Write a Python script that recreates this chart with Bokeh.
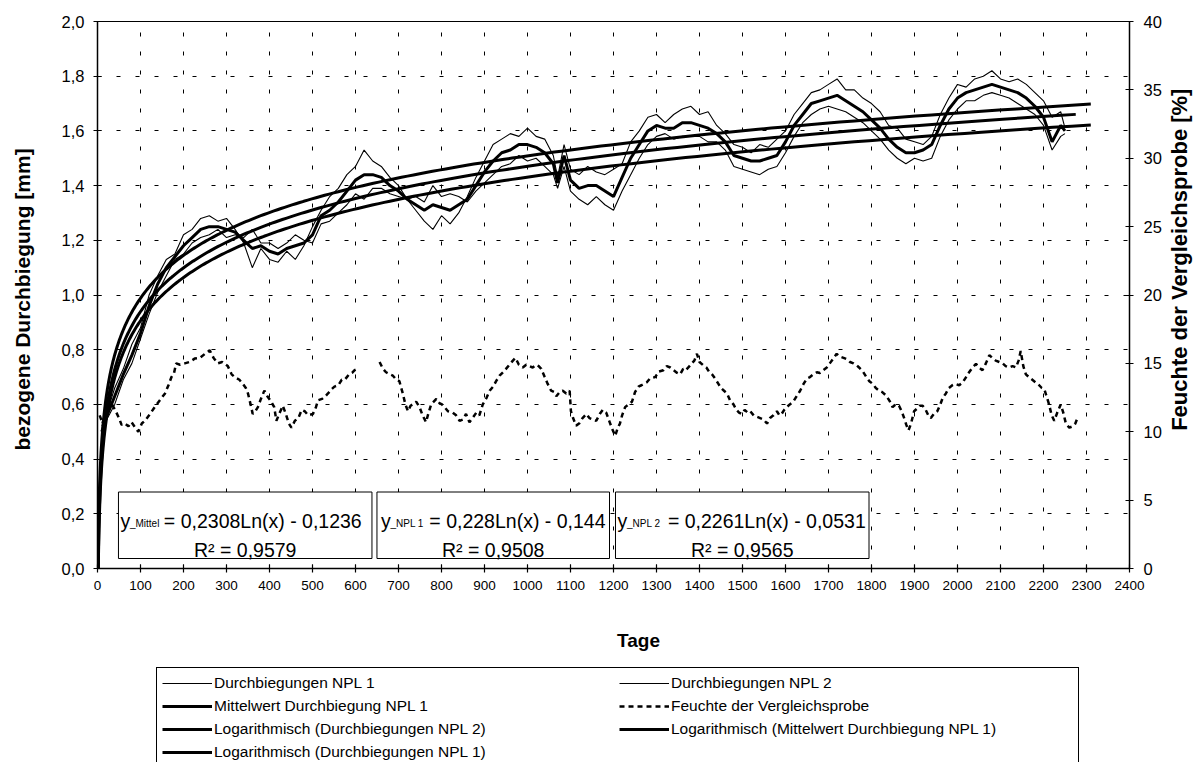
import math
import numpy as np
from bokeh.plotting import figure
from bokeh.layouts import column, row
from bokeh.models import (Range1d, LinearAxis, FixedTicker, CustomJSTickFormatter,
                          Legend, LegendItem, BoxAnnotation, Label)
from bokeh.embed import file_html
from bokeh.resources import INLINE

FONT = "Liberation Sans"
NAN = float("nan")

# ---------------- data ----------------
days = [10, 20, 40, 60, 80, 100, 120, 140, 160, 180,
        200, 220, 240, 260, 280, 300, 320, 340, 360, 380,
        400, 420, 440, 460, 480, 500, 520, 540, 560, 580,
        600, 620, 640, 660, 680, 700, 720, 740, 760, 780,
        800, 820, 840, 860, 880, 900, 920, 940, 960, 980,
        1000, 1020, 1040, 1060, 1070, 1085, 1100, 1120, 1140, 1160,
        1180, 1200, 1220, 1240, 1260, 1280, 1300, 1320, 1340, 1360,
        1380, 1400, 1420, 1440, 1460, 1480, 1500, 1520, 1540, 1560,
        1580, 1600, 1620, 1640, 1660, 1680, 1700, 1720, 1740, 1760,
        1780, 1800, 1820, 1840, 1860, 1880, 1900, 1920, 1940, 1960,
        1980, 2000, 2020, 2040, 2060, 2080, 2100, 2120, 2140, 2160,
        2180, 2200, 2220, 2240, 2250]

mittel = [0.50, 0.55, 0.63, 0.71, 0.78, 0.86, 0.96, 1.04, 1.10, 1.14,
          1.18, 1.21, 1.24, 1.25, 1.25, 1.24, 1.23, 1.20, 1.17, 1.18,
          1.16, 1.15, 1.17, 1.18, 1.19, 1.22, 1.29, 1.31, 1.34, 1.38,
          1.42, 1.44, 1.44, 1.43, 1.40, 1.38, 1.35, 1.33, 1.31, 1.33,
          1.32, 1.31, 1.33, 1.35, 1.40, 1.45, 1.49, 1.52, 1.53, 1.55,
          1.55, 1.54, 1.52, 1.48, 1.41, 1.51, 1.42, 1.39, 1.40, 1.40,
          1.38, 1.36, 1.43, 1.50, 1.55, 1.60, 1.62, 1.61, 1.61, 1.63,
          1.63, 1.62, 1.61, 1.59, 1.56, 1.51, 1.50, 1.49, 1.49, 1.50,
          1.51, 1.56, 1.62, 1.66, 1.70, 1.71, 1.72, 1.73, 1.71, 1.69,
          1.67, 1.64, 1.61, 1.57, 1.54, 1.52, 1.52, 1.53, 1.55, 1.62,
          1.68, 1.72, 1.74, 1.75, 1.76, 1.77, 1.76, 1.75, 1.74, 1.72,
          1.69, 1.65, 1.56, 1.62, 1.60]

npl2 = [0.52, 0.56, 0.66, 0.73, 0.82, 0.88, 1.00, 1.07, 1.13, 1.15,
        1.22, 1.24, 1.28, 1.29, 1.27, 1.28, 1.24, 1.19, 1.10, 1.17,
        1.13, 1.12, 1.16, 1.13, 1.18, 1.25, 1.31, 1.36, 1.39, 1.44,
        1.47, 1.53, 1.49, 1.47, 1.43, 1.40, 1.35, 1.31, 1.27, 1.24,
        1.29, 1.26, 1.30, 1.36, 1.43, 1.49, 1.55, 1.57, 1.59, 1.58,
        1.61, 1.58, 1.57, 1.51, 1.43, 1.55, 1.46, 1.44, 1.47, 1.45,
        1.44, 1.46, 1.48, 1.56, 1.60, 1.65, 1.66, 1.63, 1.66, 1.68,
        1.69, 1.66, 1.67, 1.62, 1.59, 1.55, 1.54, 1.52, 1.55, 1.54,
        1.57, 1.60, 1.66, 1.70, 1.74, 1.75, 1.77, 1.79, 1.75, 1.75,
        1.72, 1.70, 1.67, 1.62, 1.61, 1.57, 1.56, 1.55, 1.58, 1.66,
        1.72, 1.77, 1.76, 1.79, 1.80, 1.82, 1.79, 1.78, 1.79, 1.77,
        1.74, 1.71, 1.65, 1.67, 1.61]

npl1 = [0.48, 0.54, 0.60, 0.69, 0.75, 0.84, 0.93, 1.01, 1.07, 1.13,
        1.15, 1.19, 1.21, 1.22, 1.24, 1.21, 1.22, 1.21, 1.24, 1.19,
        1.19, 1.17, 1.19, 1.22, 1.20, 1.19, 1.26, 1.27, 1.30, 1.33,
        1.37, 1.35, 1.39, 1.39, 1.37, 1.36, 1.35, 1.36, 1.34, 1.40,
        1.36, 1.37, 1.36, 1.34, 1.38, 1.41, 1.44, 1.47, 1.48, 1.51,
        1.49, 1.50, 1.47, 1.44, 1.39, 1.47, 1.38, 1.35, 1.33, 1.36,
        1.33, 1.31, 1.38, 1.44, 1.50, 1.55, 1.58, 1.59, 1.57, 1.58,
        1.58, 1.58, 1.56, 1.56, 1.53, 1.47, 1.46, 1.45, 1.44, 1.46,
        1.47, 1.52, 1.58, 1.63, 1.66, 1.68, 1.69, 1.68, 1.67, 1.65,
        1.63, 1.60, 1.57, 1.53, 1.50, 1.48, 1.50, 1.49, 1.50, 1.58,
        1.64, 1.68, 1.71, 1.71, 1.73, 1.74, 1.73, 1.72, 1.70, 1.68,
        1.66, 1.62, 1.53, 1.58, 1.59]

hum_days = [5, 12, 20, 30, 41, 50, 56, 64, 72, 79, 88, 95, 103, 110, 120, 133, 145, 157, 165, 172,
            178, 183, 192, 203, 214, 226, 238, 250, 261, 270, 280, 290, 303, 312, 319, 330, 338, 345, 350, 356,
            361, 367, 373, 380, 388, 395, 404, 411, 416, 424, 431, 438, 445, 451, 459, 467, 475, 482, 490, 501,
            508, 513, 522, 530, 536, 544, 551, 560, 568, 575, 585, 592, 598, 605, 630,
            656, 664, 671, 680, 687, 695, 702, 710, 716, 722, 728, 733, 741, 749, 756, 764, 770, 776, 782, 788,
            795, 801, 807, 815, 826, 834, 842, 850, 857, 865, 872, 881, 888, 896, 905, 912, 920, 927, 935, 943,
            950, 958, 966, 972, 980, 989, 997, 1004, 1012, 1020, 1026, 1032, 1040, 1047, 1055, 1062, 1067, 1075, 1082, 1090,
            1098, 1101, 1106, 1113, 1120, 1128, 1137, 1144, 1152, 1160, 1168, 1175, 1183, 1190, 1197, 1204, 1210, 1215, 1220, 1227,
            1235, 1243, 1250, 1258, 1265, 1277, 1285, 1297, 1305, 1316, 1324, 1332, 1340, 1348, 1355, 1362, 1368, 1374, 1382, 1388,
            1394, 1400, 1409, 1416, 1422, 1429, 1436, 1444, 1450, 1457, 1464, 1471, 1479, 1486, 1492, 1498, 1505, 1512, 1518, 1526,
            1533, 1541, 1549, 1557, 1564, 1572, 1580, 1586, 1591, 1597, 1603, 1610, 1618, 1626, 1634, 1642, 1650, 1657, 1665, 1673,
            1680, 1688, 1696, 1703, 1710, 1719, 1726, 1735, 1743, 1750, 1758, 1766, 1771, 1780, 1788, 1795, 1803, 1810, 1818, 1825,
            1832, 1837, 1843, 1849, 1856, 1864, 1870, 1876, 1881, 1886, 1892, 1899, 1906, 1912, 1919, 1926, 1932, 1938, 1945, 1953,
            1960, 1966, 1973, 1980, 1988, 1995, 2004, 2012, 2020, 2027, 2035, 2043, 2050, 2058, 2066, 2074, 2081, 2089, 2097, 2105,
            2112, 2120, 2128, 2136, 2142, 2147, 2153, 2159, 2166, 2174, 2182, 2190, 2196, 2202, 2208, 2213, 2219, 2225, 2232, 2240,
            2246, 2252, 2260, 2268, 2274, 2279]

hum_vals = [11.2, 10.6, 11.8, 12.2, 11.6, 11.0, 10.5, 10.6, 10.4, 10.7, 10.3, 10.0, 10.6, 10.8, 11.2, 11.8, 12.3, 12.8, 13.4, 14.0,
            14.3, 15.0, 14.9, 15.0, 15.1, 15.35, 15.4, 15.7, 15.95, 15.4, 15.0, 15.1, 14.8, 14.2, 14.0, 13.8, 13.5, 13.2, 12.8, 12.0,
            11.3, 11.5, 11.8, 12.4, 13.0, 12.6, 12.2, 11.8, 10.8, 11.4, 11.9, 11.3, 10.6, 10.3, 10.8, 11.0, 11.6, 11.5, 11.2, 11.3,
            11.8, 12.3, 12.4, 12.6, 12.8, 13.1, 13.3, 13.4, 13.8, 13.8, 14.2, 14.3, 14.5, 14.6, NAN,
            15.1, 14.6, 14.35, 14.2, 14.1, 13.8, 13.7, 12.8, 12.0, 11.5, 11.9, 12.0, 12.2, 11.8, 11.2, 10.7, 11.4, 12.0, 12.2, 12.4,
            12.1, 12.0, 11.8, 11.5, 11.4, 11.2, 10.8, 10.9, 11.3, 10.7, 11.0, 11.4, 11.2, 12.0, 12.5, 13.0, 13.3, 13.7, 14.1, 14.35,
            14.6, 14.9, 15.2, 15.4, 14.9, 14.7, 14.9, 14.8, 14.7, 14.9, 14.8, 14.6, 14.0, 13.5, 13.0, 12.9, 12.6, 12.9, 13.0, 12.8,
            13.0, 11.5, 11.0, 10.45, 10.6, 11.0, 11.3, 11.0, 10.9, 10.8, 11.3, 11.6, 11.4, 10.8, 10.2, 9.7, 10.3, 10.6, 11.2, 11.8,
            12.0, 12.2, 12.9, 13.3, 13.4, 13.6, 13.9, 14.0, 14.4, 14.5, 14.8, 14.7, 14.5, 14.3, 14.2, 14.6, 14.5, 14.7, 15.0, 15.2,
            15.7, 15.1, 14.85, 14.7, 14.4, 14.2, 13.9, 13.5, 13.2, 13.0, 12.8, 12.3, 12.0, 11.6, 11.4, 11.3, 11.6, 11.4, 11.5, 11.2,
            11.1, 11.0, 10.9, 10.6, 11.0, 11.2, 11.5, 11.2, 11.3, 11.6, 11.8, 12.0, 12.2, 12.6, 13.0, 13.5, 13.9, 14.0, 14.2, 14.35,
            14.3, 14.5, 14.7, 15.0, 15.3, 15.7, 15.5, 15.4, 15.3, 15.1, 15.0, 14.85, 14.7, 14.4, 14.0, 13.7, 13.5, 13.2, 13.0, 12.9,
            12.7, 12.5, 12.2, 11.8, 12.0, 11.9, 11.5, 11.0, 10.5, 10.1, 10.6, 11.5, 11.7, 11.9, 11.9, 11.6, 11.2, 11.0, 11.3, 11.5,
            12.0, 12.5, 12.8, 13.2, 13.4, 13.5, 13.4, 13.6, 14.0, 14.35, 14.7, 14.96, 14.7, 14.5, 15.0, 15.6, 15.4, 15.2, 15.1, 15.0,
            14.8, 14.7, 14.8, 14.7, 15.2, 15.9, 14.8, 14.2, 14.0, 13.8, 13.6, 13.4, 13.2, 13.1, 12.5, 12.0, 11.2, 10.8, 11.4, 12.0,
            11.4, 10.6, 10.3, 10.4, 10.6, 11.0]

# logarithmic trend lines y = a*ln(x) + b (coefficients printed in the chart)
fit_keys = ["Mittel", "NPL 1", "NPL 2"]
fit_a = [0.2308, 0.228, 0.2261]
fit_b = [-0.1236, -0.144, -0.0531]
fit_r2 = ["0,9579", "0,9508", "0,9565"]
fit_end = [2275, 2310, 2310]

x_ticks = list(range(0, 2401, 100))
y_ticks = [0.0, 0.2, 0.4, 0.6, 0.8, 1.0, 1.2, 1.4, 1.6, 1.8, 2.0]
y2_ticks = [0, 5, 10, 15, 20, 25, 30, 35, 40]

# legend entries, in the order Bokeh fills its columns (column by column)
legend_labels = ["Durchbiegungen NPL 1",
                 "Mittelwert Durchbiegung NPL 1",
                 "Logarithmisch (Durchbiegungen NPL 2)",
                 "Logarithmisch (Durchbiegungen NPL 1)",
                 "Durchbiegungen NPL 2",
                 "Feuchte der Vergleichsprobe",
                 "Logarithmisch (Mittelwert Durchbiegung NPL 1)"]
legend_kinds = ["thin", "thick", "thick", "thick", "thin", "hum", "thick"]

# ---------------- geometry (page pixels) ----------------
W, H = 1193, 762
TOP_H = 620            # height of the row holding the chart
LT_W = 40              # strip holding the left title
FL, FR, FT, FB = 97, 1131, 21, 568   # frame edges in page pixels
MAIN_W = FR - LT_W + 33
RT_W = W - LT_W - MAIN_W


def dx(px):
    return (px - FL) * 2400.0 / (FR - FL)


def dy(py):
    return (FB - py) * 2.0 / (FB - FT)


def strip(width, height, x0, y0):
    f = figure(width=width, height=height, x_range=Range1d(x0, x0 + width),
               y_range=Range1d(y0 + height, y0), output_backend="svg",
               toolbar_location=None, x_axis_type=None, y_axis_type=None,
               min_border=0, min_border_left=0, min_border_right=0,
               min_border_top=0, min_border_bottom=0)
    f.outline_line_color = None
    f.background_fill_color = "white"
    f.border_fill_color = "white"
    f.grid.visible = False
    return f


# ---------------- main chart ----------------
p = figure(width=MAIN_W, height=TOP_H, x_range=Range1d(0, 2400), y_range=Range1d(0, 2.0),
           output_backend="svg", toolbar_location=None,
           min_border_left=FL - LT_W, min_border_right=MAIN_W - (FR - LT_W),
           min_border_top=FT, min_border_bottom=TOP_H - FB)
p.extra_y_ranges = {"hum": Range1d(0, 40)}
p.background_fill_color = "white"
p.border_fill_color = "white"
p.outline_line_color = "black"
p.outline_line_width = 1

p.xaxis.ticker = FixedTicker(ticks=x_ticks)
p.yaxis.ticker = FixedTicker(ticks=y_ticks)
p.yaxis.formatter = CustomJSTickFormatter(code="return tick.toFixed(1).replace('.', ',');")
yr = LinearAxis(y_range_name="hum", ticker=FixedTicker(ticks=y2_ticks))
p.add_layout(yr, "right")

for ax in [p.xaxis[0], p.yaxis[0], yr]:
    ax.axis_line_color = "black"
    ax.axis_line_width = 1.5
    ax.major_tick_line_color = "black"
    ax.major_tick_line_width = 1.2
    ax.major_tick_in = 4
    ax.major_tick_out = 4
    ax.minor_tick_line_color = None
    ax.major_label_text_font = FONT
    ax.major_label_text_color = "black"

p.xaxis.major_label_text_font_size = "13.5px"
p.xaxis.major_label_standoff = 8
p.yaxis[0].major_label_text_font_size = "16.5px"
p.yaxis[0].major_label_standoff = 9
yr.major_label_text_font_size = "16.5px"
yr.major_label_standoff = 10

for g in [p.xgrid[0], p.ygrid[0]]:
    g.grid_line_color = "black"
    g.grid_line_dash = "4 15"
    g.grid_line_width = 1

STYLES = {
    "hum": dict(line_color="black", line_width=2.5, line_dash="5 4"),
    "thin": dict(line_color="black", line_width=1.1),
    "thick": dict(line_color="black", line_width=3),
}

p.line(hum_days, hum_vals, y_range_name="hum", **STYLES["hum"])
p.line(days, npl1, **STYLES["thin"])
p.line(days, npl2, **STYLES["thin"])
p.line(days, mittel, **STYLES["thick"])
for key, a, b, end in zip(fit_keys, fit_a, fit_b, fit_end):
    xs = np.geomspace(1.0, end, 400)
    ys = a * np.log(xs) + b
    p.line(xs, ys, **STYLES["thick"])

# equation boxes
boxes = [(118, 372), (377, 610), (616, 870)]
eq_rest = ["= 0,2308Ln(x) - 0,1236", "= 0,228Ln(x) - 0,144", "= 0,2261Ln(x) - 0,0531"]
eq_sub = ["_Mittel", "_NPL 1", "_NPL 2"]
eq_pos = [(120, 129.5, 163.5), (381, 390.5, 429.5), (618, 627.5, 668.5)]
for (bl, br), rest, sub, (py_, ps_, pr_), r2 in zip(boxes, eq_rest, eq_sub, eq_pos, fit_r2):
    p.add_layout(BoxAnnotation(left=dx(bl), right=dx(br), bottom=dy(558), top=dy(491.5),
                               fill_color="white", fill_alpha=1.0,
                               line_color="black", line_alpha=1.0, line_width=1,
                               level="annotation"))
    p.add_layout(Label(x=dx(py_), y=dy(520.5), text="y", text_font=FONT, text_color="black",
                       text_font_size="19.5px", text_align="left", text_baseline="alphabetic"))
    p.add_layout(Label(x=dx(ps_), y=dy(523), text=sub, text_font=FONT, text_color="black",
                       text_font_size="10px", text_align="left", text_baseline="alphabetic"))
    p.add_layout(Label(x=dx(pr_), y=dy(520.5), text=rest, text_font=FONT, text_color="black",
                       text_font_size="19.5px", text_align="left", text_baseline="alphabetic"))
    p.add_layout(Label(x=dx((bl + br) / 2.0), y=dy(549.5), text="R² = " + r2, text_font=FONT,
                       text_color="black", text_font_size="19.5px", text_align="center",
                       text_baseline="alphabetic"))

# ---------------- left / right title strips ----------------
lt = strip(LT_W, TOP_H, 0, 0)
lt.add_layout(Label(x=21.5, y=315, text="bezogene Durchbiegung [mm]", angle=math.pi / 2,
                    text_font=FONT, text_font_style="bold", text_font_size="21px",
                    text_color="black", text_align="center", text_baseline="middle"))

rt = strip(RT_W, TOP_H, LT_W + MAIN_W, 0)
rt.add_layout(Label(x=1179, y=270, text="Feuchte der Vergleichsprobe [%]", angle=math.pi / 2,
                    text_font=FONT, text_font_style="bold", text_font_size="22px",
                    text_color="black", text_align="center", text_baseline="middle"))

# ---------------- bottom strip: x title + legend ----------------
bt = strip(W, H - TOP_H, 0, TOP_H)
bt.add_layout(Label(x=638, y=640, text="Tage", text_font=FONT, text_font_style="bold",
                    text_font_size="19px", text_color="black",
                    text_align="center", text_baseline="middle"))

items = []
for lab, kind in zip(legend_labels, legend_kinds):
    # sample glyph only (no visible data in this strip)
    r = bt.line([NAN], [NAN], **STYLES[kind])
    items.append(LegendItem(label=lab, renderers=[r]))

LEG_TOP = 669
LEG_H = 2 * 5 + 4 * 20 + 3 * 3
legend = Legend(items=items, location=(156, H - LEG_TOP - LEG_H), ncols=2,
                label_text_font=FONT, label_text_font_size="15.5px", label_text_color="black",
                glyph_width=50, glyph_height=20, label_height=20, label_width=402,
                label_standoff=2, spacing=3, padding=5, margin=0,
                border_line_color="black", border_line_width=1, border_line_alpha=1.0,
                background_fill_color="white", background_fill_alpha=1.0)
bt.add_layout(legend, "center")

layout = column(row(lt, p, rt), bt)
open("out.html", "w").write(file_html(layout, INLINE))
